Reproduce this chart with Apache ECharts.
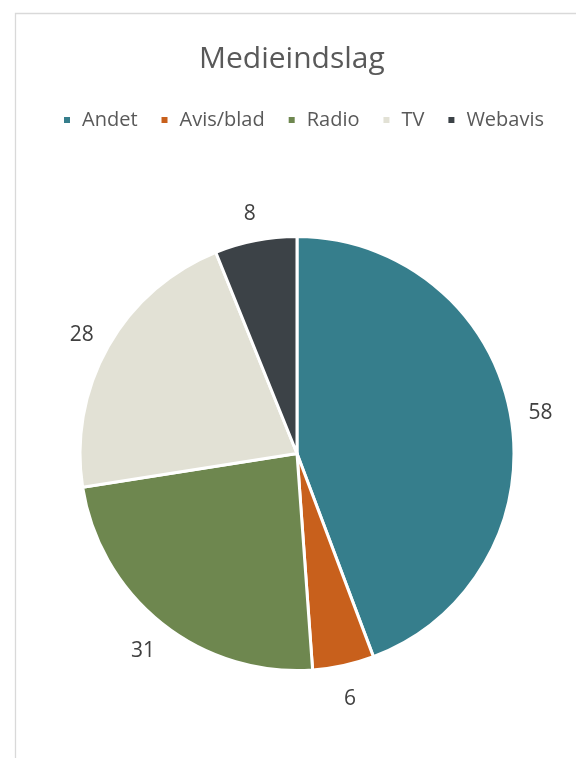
<!DOCTYPE html>
<html>
<head>
<meta charset="utf-8">
<script src="https://cdn.jsdelivr.net/npm/echarts@6/dist/echarts.min.js"></script>
<style>
html,body{margin:0;padding:0;background:#fff;}
#c{width:576px;height:758px;}
</style>
</head>
<body>
<div id="c"></div>
<script>
const categories = ['Andet', 'Avis/blad', 'Radio', 'TV', 'Webavis'];
const values = [58, 6, 31, 28, 8];
const colors = ['#367E8C', '#C8601C', '#6E874F', '#E2E1D5', '#3C4247'];
const titleText = 'Medieindslag';

const data = categories.map((n, i) => ({ name: n, value: values[i], itemStyle: { color: colors[i] } }));
const labelData = categories.map((n, i) => ({ name: n, value: values[i] }));

const chart = echarts.init(document.getElementById('c'), null, { renderer: 'canvas' });
chart.setOption({
  animation: false,
  backgroundColor: '#ffffff',
  graphic: [{
    type: 'rect', left: 13, top: 11, silent: true,
    shape: { width: 620, height: 800 },
    style: { fill: 'none', stroke: '#D9D9D9', lineWidth: 1.3 }
  }],
  title: {
    text: titleText, left: 194, top: 39,
    textStyle: { fontFamily: 'Open Sans', fontSize: 30, fontWeight: 'normal', color: '#595959' }
  },
  legend: {
    data: categories, top: 105, left: 57,
    icon: 'rect', itemWidth: 8, itemHeight: 8, itemGap: 22,
    textStyle: { fontFamily: 'Open Sans', fontSize: 20, color: '#595959', padding: [0, 0, 0, 6] }
  },
  series: [{
    type: 'pie', center: [297, 453.5], radius: [0, 217],
    startAngle: 90, clockwise: true,
    itemStyle: { borderColor: '#ffffff', borderWidth: 3 },
    label: { show: false }, labelLine: { show: false },
    emphasis: { disabled: true },
    data: data
  }, {
    type: 'pie', center: [297, 457], radius: [0, 489],
    startAngle: 90, clockwise: true, silent: true,
    legendHoverLink: false, z: 1,
    itemStyle: { color: 'rgba(0,0,0,0)', borderWidth: 0 },
    label: { show: true, position: 'inside', formatter: '{c}', fontFamily: 'Open Sans', fontSize: 21, color: '#404040' },
    labelLine: { show: false },
    emphasis: { disabled: true },
    data: labelData
  }]
});
</script>
</body>
</html>
